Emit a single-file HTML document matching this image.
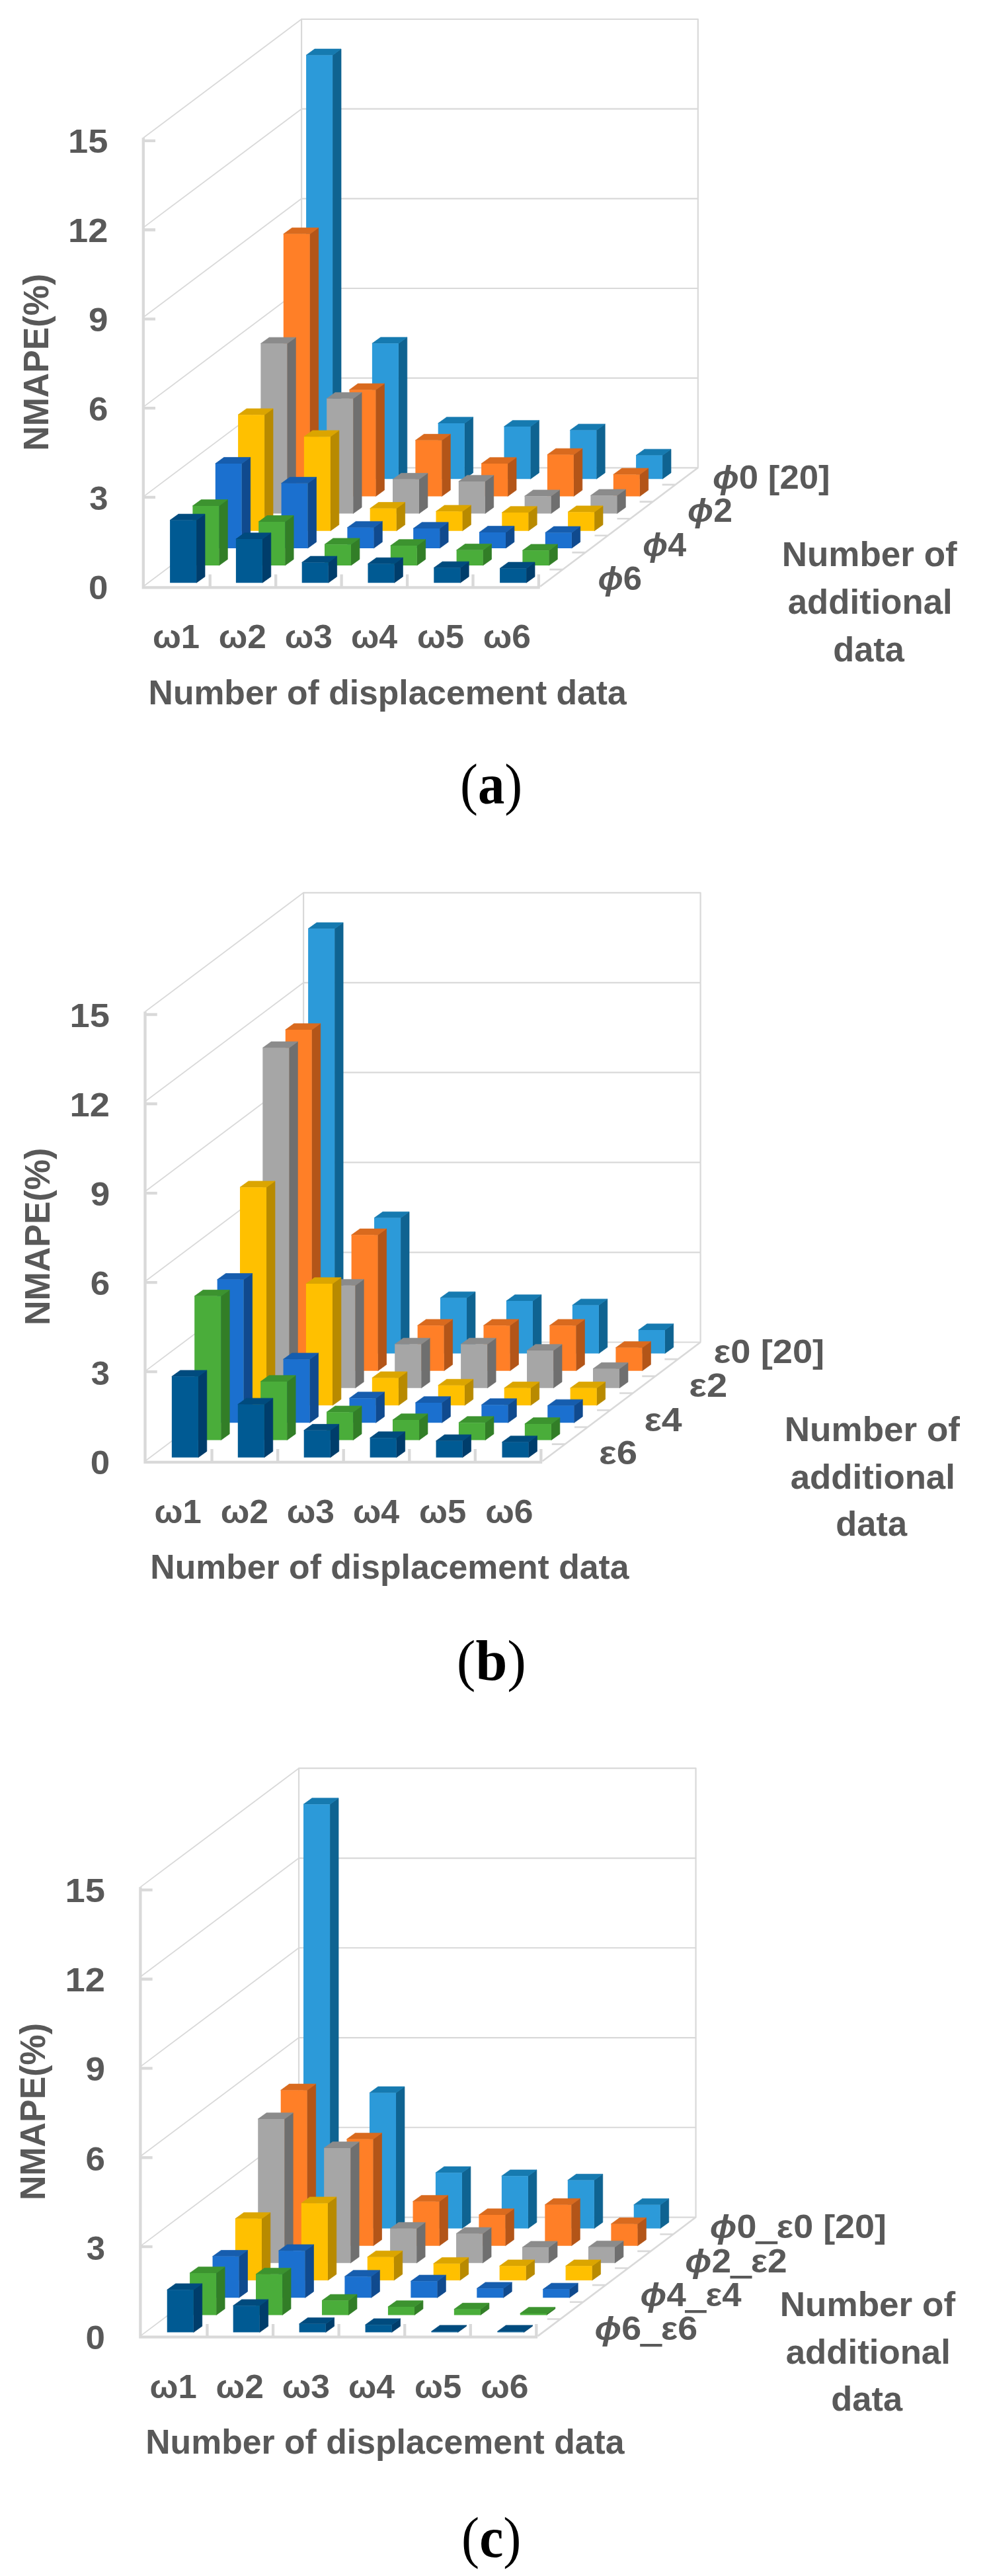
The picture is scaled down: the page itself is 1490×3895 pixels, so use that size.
<!DOCTYPE html>
<html><head><meta charset="utf-8"><title>NMAPE charts</title>
<style>
html,body{margin:0;padding:0;background:#fff}
svg{display:block}
text{font-family:"Liberation Sans",sans-serif;font-weight:bold;fill:#595959}
.cap{font-family:"Liberation Serif",serif;font-weight:normal;fill:#000}
.cap tspan{font-weight:bold}
.i{font-style:italic}
.u{stroke:#595959;stroke-width:2.4}
</style></head><body>
<svg width="1490" height="3895" viewBox="0 0 1490 3895">
<rect width="1490" height="3895" fill="#fff"/>
<g stroke-width="0.7" stroke-linejoin="round" transform="translate(0 0)"><g fill="none" stroke="#d9d9d9" stroke-width="2.2">
<path d="M456.1 29H1055.8V707.3H456.1Z"/>
<path d="M456.1 571.6H1055.8M456.1 436H1055.8M456.1 300.3H1055.8M456.1 164.7H1055.8"/>
<path stroke-width="1.8" d="M216.8 886.7L456.1 707.3M216.8 751.1L456.1 571.6M216.8 615.4L456.1 436M216.8 479.8L456.1 300.3M216.8 344.1L456.1 164.7M216.8 208.5L456.1 29"/>
</g>
<path d="M817.2 886.7L1055.8 707.3M851.3 861.1h-20M885.4 835.4h-20M919.5 809.8h-20M953.5 784.2h-20M987.6 758.6h-20M1021.7 732.9h-20" fill="none" stroke="#d9d9d9" stroke-width="2.6"/>
<path d="M216.8 208.3V888.3H816.7M216.8 751.8h18.2M216.8 617.1h18.2M216.8 482.3h18.2M216.8 347.5h18.2M216.8 212.8h18.2M317.7 888.3v-19.8M417.2 888.3v-19.8M516.6 888.3v-19.8M616.1 888.3v-19.8M715.5 888.3v-19.8M814.9 888.3v-19.8" fill="none" stroke="#d9d9d9" stroke-width="4.3" stroke-linejoin="miter"/>
<path fill="#0f6391" stroke="#0f6391" d="M503.1 724.2l12.9 -9.3V74.1L503.1 83.4ZM602.9 724.2l12.9 -9.3V510L602.9 519.3ZM702.7 724.2l12.9 -9.3V630.8L702.7 640.1ZM802.5 724.2l12.9 -9.3V635.7L802.5 645ZM902.3 724.2l12.9 -9.3V641.2L902.3 650.5ZM1002.1 724.2l12.9 -9.3V679.2L1002.1 688.5Z"/><path fill="#167ab0" stroke="#167ab0" d="M463.1 83.4l12.9 -9.3h40L503.1 83.4ZM562.9 519.3l12.9 -9.3h40L602.9 519.3ZM662.7 640.1l12.9 -9.3h40L702.7 640.1ZM762.5 645l12.9 -9.3h40L802.5 645ZM862.3 650.5l12.9 -9.3h40L902.3 650.5ZM962.1 688.5l12.9 -9.3h40L1002.1 688.5Z"/><path fill="#2c9ad9" d="M463.1 83.4h40V724.2h-40ZM562.9 519.3h40V724.2h-40ZM662.7 640.1h40V724.2h-40ZM762.5 645h40V724.2h-40ZM862.3 650.5h40V724.2h-40ZM962.1 688.5h40V724.2h-40Z"/>
<path fill="#b35518" stroke="#b35518" d="M468.8 750.4l12.9 -9.3V344.5L468.8 353.8ZM568.5 750.4l12.9 -9.3V580.1L568.5 589.4ZM668.4 750.4l12.9 -9.3V656.5L668.4 665.8ZM768.1 750.4l12.9 -9.3V691.8L768.1 701.1ZM867.9 750.4l12.9 -9.3V678.2L867.9 687.5ZM967.8 750.4l12.9 -9.3V708.1L967.8 717.4Z"/><path fill="#d96a1e" stroke="#d96a1e" d="M428.8 353.8l12.9 -9.3h40L468.8 353.8ZM528.5 589.4l12.9 -9.3h40L568.5 589.4ZM628.4 665.8l12.9 -9.3h40L668.4 665.8ZM728.1 701.1l12.9 -9.3h40L768.1 701.1ZM827.9 687.5l12.9 -9.3h40L867.9 687.5ZM927.8 717.4l12.9 -9.3h40L967.8 717.4Z"/><path fill="#ff7f27" d="M428.8 353.8h40V750.4h-40ZM528.5 589.4h40V750.4h-40ZM628.4 665.8h40V750.4h-40ZM728.1 701.1h40V750.4h-40ZM827.9 687.5h40V750.4h-40ZM927.8 717.4h40V750.4h-40Z"/>
<path fill="#6f6f6f" stroke="#6f6f6f" d="M434.4 776.5l12.9 -9.3V510.2L434.4 519.5ZM534.2 776.5l12.9 -9.3V593.4L534.2 602.7ZM634 776.5l12.9 -9.3V715.5L634 724.8ZM733.8 776.5l12.9 -9.3V718.7L733.8 728ZM833.6 776.5l12.9 -9.3V740.9L833.6 750.2ZM933.4 776.5l12.9 -9.3V740L933.4 749.3Z"/><path fill="#8b8b8b" stroke="#8b8b8b" d="M394.4 519.5l12.9 -9.3h40L434.4 519.5ZM494.2 602.7l12.9 -9.3h40L534.2 602.7ZM594 724.8l12.9 -9.3h40L634 724.8ZM693.8 728l12.9 -9.3h40L733.8 728ZM793.6 750.2l12.9 -9.3h40L833.6 750.2ZM893.4 749.3l12.9 -9.3h40L933.4 749.3Z"/><path fill="#a6a6a6" d="M394.4 519.5h40V776.5h-40ZM494.2 602.7h40V776.5h-40ZM594 724.8h40V776.5h-40ZM693.8 728h40V776.5h-40ZM793.6 750.2h40V776.5h-40ZM893.4 749.3h40V776.5h-40Z"/>
<path fill="#b88a00" stroke="#b88a00" d="M400.1 802.7l12.9 -9.3V617.9L400.1 627.2ZM499.9 802.7l12.9 -9.3V650.9L499.9 660.2ZM599.7 802.7l12.9 -9.3V759.5L599.7 768.8ZM699.5 802.7l12.9 -9.3V764L699.5 773.3ZM799.3 802.7l12.9 -9.3V765.8L799.3 775.1ZM899.1 802.7l12.9 -9.3V764.9L899.1 774.2Z"/><path fill="#dba500" stroke="#dba500" d="M360.1 627.2l12.9 -9.3h40L400.1 627.2ZM459.9 660.2l12.9 -9.3h40L499.9 660.2ZM559.7 768.8l12.9 -9.3h40L599.7 768.8ZM659.5 773.3l12.9 -9.3h40L699.5 773.3ZM759.3 775.1l12.9 -9.3h40L799.3 775.1ZM859.1 774.2l12.9 -9.3h40L899.1 774.2Z"/><path fill="#ffc000" d="M360.1 627.2h40V802.7h-40ZM459.9 660.2h40V802.7h-40ZM559.7 768.8h40V802.7h-40ZM659.5 773.3h40V802.7h-40ZM759.3 775.1h40V802.7h-40ZM859.1 774.2h40V802.7h-40Z"/>
<path fill="#104a8e" stroke="#104a8e" d="M365.8 828.9l12.9 -9.3V691.6L365.8 700.9ZM465.6 828.9l12.9 -9.3V721.5L465.6 730.8ZM565.4 828.9l12.9 -9.3V788.4L565.4 797.7ZM665.2 828.9l12.9 -9.3V789.8L665.2 799.1ZM765 828.9l12.9 -9.3V795.6L765 804.9ZM864.8 828.9l12.9 -9.3V796.1L864.8 805.4Z"/><path fill="#165dae" stroke="#165dae" d="M325.8 700.9l12.9 -9.3h40L365.8 700.9ZM425.6 730.8l12.9 -9.3h40L465.6 730.8ZM525.4 797.7l12.9 -9.3h40L565.4 797.7ZM625.2 799.1l12.9 -9.3h40L665.2 799.1ZM725 804.9l12.9 -9.3h40L765 804.9ZM824.8 805.4l12.9 -9.3h40L864.8 805.4Z"/><path fill="#1b70cf" d="M325.8 700.9h40V828.9h-40ZM425.6 730.8h40V828.9h-40ZM525.4 797.7h40V828.9h-40ZM625.2 799.1h40V828.9h-40ZM725 804.9h40V828.9h-40ZM824.8 805.4h40V828.9h-40Z"/>
<path fill="#327e27" stroke="#327e27" d="M331.4 855l12.9 -9.3V755.6L331.4 764.9ZM431.2 855l12.9 -9.3V779.6L431.2 788.9ZM531 855l12.9 -9.3V813.9L531 823.2ZM630.8 855l12.9 -9.3V815.7L630.8 825ZM730.6 855l12.9 -9.3V822.5L730.6 831.8ZM830.4 855l12.9 -9.3V823L830.4 832.3Z"/><path fill="#3c932f" stroke="#3c932f" d="M291.4 764.9l12.9 -9.3h40L331.4 764.9ZM391.2 788.9l12.9 -9.3h40L431.2 788.9ZM491 823.2l12.9 -9.3h40L531 823.2ZM590.8 825l12.9 -9.3h40L630.8 825ZM690.6 831.8l12.9 -9.3h40L730.6 831.8ZM790.4 832.3l12.9 -9.3h40L830.4 832.3Z"/><path fill="#4aad3a" d="M291.4 764.9h40V855h-40ZM391.2 788.9h40V855h-40ZM491 823.2h40V855h-40ZM590.8 825h40V855h-40ZM690.6 831.8h40V855h-40ZM790.4 832.3h40V855h-40Z"/>
<path fill="#003d6b" stroke="#003d6b" d="M297.1 881.2l12.9 -9.3V777.3L297.1 786.6ZM396.9 881.2l12.9 -9.3V805.8L396.9 815.1ZM496.7 881.2l12.9 -9.3V841.1L496.7 850.4ZM596.5 881.2l12.9 -9.3V843.3L596.5 852.6ZM696.3 881.2l12.9 -9.3V849.2L696.3 858.5ZM796.1 881.2l12.9 -9.3V850.1L796.1 859.4Z"/><path fill="#004b7e" stroke="#004b7e" d="M257.1 786.6l12.9 -9.3h40L297.1 786.6ZM356.9 815.1l12.9 -9.3h40L396.9 815.1ZM456.7 850.4l12.9 -9.3h40L496.7 850.4ZM556.5 852.6l12.9 -9.3h40L596.5 852.6ZM656.3 858.5l12.9 -9.3h40L696.3 858.5ZM756.1 859.4l12.9 -9.3h40L796.1 859.4Z"/><path fill="#005a93" d="M257.1 786.6h40V881.2h-40ZM356.9 815.1h40V881.2h-40ZM456.7 850.4h40V881.2h-40ZM556.5 852.6h40V881.2h-40ZM656.3 858.5h40V881.2h-40ZM756.1 859.4h40V881.2h-40Z"/></g>
<g stroke-width="0.7" stroke-linejoin="round" transform="translate(2.42 1320.78) scale(1.0013 1.002)"><g fill="none" stroke="#d9d9d9" stroke-width="2.2">
<path d="M456.1 29H1055.8V707.3H456.1Z"/>
<path d="M456.1 571.6H1055.8M456.1 436H1055.8M456.1 300.3H1055.8M456.1 164.7H1055.8"/>
<path stroke-width="1.8" d="M216.8 886.7L456.1 707.3M216.8 751.1L456.1 571.6M216.8 615.4L456.1 436M216.8 479.8L456.1 300.3M216.8 344.1L456.1 164.7M216.8 208.5L456.1 29"/>
</g>
<path d="M817.2 886.7L1055.8 707.3M851.3 861.1h-20M885.4 835.4h-20M919.5 809.8h-20M953.5 784.2h-20M987.6 758.6h-20M1021.7 732.9h-20" fill="none" stroke="#d9d9d9" stroke-width="2.6"/>
<path d="M216.8 208.3V888.3H816.7M216.8 751.8h18.2M216.8 617.1h18.2M216.8 482.3h18.2M216.8 347.5h18.2M216.8 212.8h18.2M317.7 888.3v-19.8M417.2 888.3v-19.8M516.6 888.3v-19.8M616.1 888.3v-19.8M715.5 888.3v-19.8M814.9 888.3v-19.8" fill="none" stroke="#d9d9d9" stroke-width="4.3" stroke-linejoin="miter"/>
<path fill="#0f6391" stroke="#0f6391" d="M503.1 724.2l12.9 -9.3V74.1L503.1 83.4ZM602.9 724.2l12.9 -9.3V510.5L602.9 519.8ZM702.7 724.2l12.9 -9.3V631.2L702.7 640.5ZM802.5 724.2l12.9 -9.3V635.7L802.5 645ZM902.3 724.2l12.9 -9.3V642.1L902.3 651.4ZM1002.1 724.2l12.9 -9.3V679.6L1002.1 688.9Z"/><path fill="#167ab0" stroke="#167ab0" d="M463.1 83.4l12.9 -9.3h40L503.1 83.4ZM562.9 519.8l12.9 -9.3h40L602.9 519.8ZM662.7 640.5l12.9 -9.3h40L702.7 640.5ZM762.5 645l12.9 -9.3h40L802.5 645ZM862.3 651.4l12.9 -9.3h40L902.3 651.4ZM962.1 688.9l12.9 -9.3h40L1002.1 688.9Z"/><path fill="#2c9ad9" d="M463.1 83.4h40V724.2h-40ZM562.9 519.8h40V724.2h-40ZM662.7 640.5h40V724.2h-40ZM762.5 645h40V724.2h-40ZM862.3 651.4h40V724.2h-40ZM962.1 688.9h40V724.2h-40Z"/>
<path fill="#b35518" stroke="#b35518" d="M468.8 750.4l12.9 -9.3V226.5L468.8 235.8ZM568.5 750.4l12.9 -9.3V536.2L568.5 545.5ZM668.4 750.4l12.9 -9.3V672.8L668.4 682.1ZM768.1 750.4l12.9 -9.3V672.8L768.1 682.1ZM867.9 750.4l12.9 -9.3V672.8L867.9 682.1ZM967.8 750.4l12.9 -9.3V706.3L967.8 715.6Z"/><path fill="#d96a1e" stroke="#d96a1e" d="M428.8 235.8l12.9 -9.3h40L468.8 235.8ZM528.5 545.5l12.9 -9.3h40L568.5 545.5ZM628.4 682.1l12.9 -9.3h40L668.4 682.1ZM728.1 682.1l12.9 -9.3h40L768.1 682.1ZM827.9 682.1l12.9 -9.3h40L867.9 682.1ZM927.8 715.6l12.9 -9.3h40L967.8 715.6Z"/><path fill="#ff7f27" d="M428.8 235.8h40V750.4h-40ZM528.5 545.5h40V750.4h-40ZM628.4 682.1h40V750.4h-40ZM728.1 682.1h40V750.4h-40ZM827.9 682.1h40V750.4h-40ZM927.8 715.6h40V750.4h-40Z"/>
<path fill="#6f6f6f" stroke="#6f6f6f" d="M434.4 776.5l12.9 -9.3V253.8L434.4 263.1ZM534.2 776.5l12.9 -9.3V612.4L534.2 621.7ZM634 776.5l12.9 -9.3V701.1L634 710.4ZM733.8 776.5l12.9 -9.3V701.1L733.8 710.4ZM833.6 776.5l12.9 -9.3V710.6L833.6 719.9ZM933.4 776.5l12.9 -9.3V738.1L933.4 747.4Z"/><path fill="#8b8b8b" stroke="#8b8b8b" d="M394.4 263.1l12.9 -9.3h40L434.4 263.1ZM494.2 621.7l12.9 -9.3h40L534.2 621.7ZM594 710.4l12.9 -9.3h40L634 710.4ZM693.8 710.4l12.9 -9.3h40L733.8 710.4ZM793.6 719.9l12.9 -9.3h40L833.6 719.9ZM893.4 747.4l12.9 -9.3h40L933.4 747.4Z"/><path fill="#a6a6a6" d="M394.4 263.1h40V776.5h-40ZM494.2 621.7h40V776.5h-40ZM594 710.4h40V776.5h-40ZM693.8 710.4h40V776.5h-40ZM793.6 719.9h40V776.5h-40ZM893.4 747.4h40V776.5h-40Z"/>
<path fill="#b88a00" stroke="#b88a00" d="M400.1 802.7l12.9 -9.3V464.2L400.1 473.5ZM499.9 802.7l12.9 -9.3V609.8L499.9 619.1ZM599.7 802.7l12.9 -9.3V751.8L599.7 761.1ZM699.5 802.7l12.9 -9.3V763.1L699.5 772.4ZM799.3 802.7l12.9 -9.3V767.2L799.3 776.5ZM899.1 802.7l12.9 -9.3V767.2L899.1 776.5Z"/><path fill="#dba500" stroke="#dba500" d="M360.1 473.5l12.9 -9.3h40L400.1 473.5ZM459.9 619.1l12.9 -9.3h40L499.9 619.1ZM559.7 761.1l12.9 -9.3h40L599.7 761.1ZM659.5 772.4l12.9 -9.3h40L699.5 772.4ZM759.3 776.5l12.9 -9.3h40L799.3 776.5ZM859.1 776.5l12.9 -9.3h40L899.1 776.5Z"/><path fill="#ffc000" d="M360.1 473.5h40V802.7h-40ZM459.9 619.1h40V802.7h-40ZM559.7 761.1h40V802.7h-40ZM659.5 772.4h40V802.7h-40ZM759.3 776.5h40V802.7h-40ZM859.1 776.5h40V802.7h-40Z"/>
<path fill="#104a8e" stroke="#104a8e" d="M365.8 828.9l12.9 -9.3V603.5L365.8 612.8ZM465.6 828.9l12.9 -9.3V723.7L465.6 733ZM565.4 828.9l12.9 -9.3V782.5L565.4 791.8ZM665.2 828.9l12.9 -9.3V789.3L665.2 798.6ZM765 828.9l12.9 -9.3V792.5L765 801.8ZM864.8 828.9l12.9 -9.3V793.8L864.8 803.1Z"/><path fill="#165dae" stroke="#165dae" d="M325.8 612.8l12.9 -9.3h40L365.8 612.8ZM425.6 733l12.9 -9.3h40L465.6 733ZM525.4 791.8l12.9 -9.3h40L565.4 791.8ZM625.2 798.6l12.9 -9.3h40L665.2 798.6ZM725 801.8l12.9 -9.3h40L765 801.8ZM824.8 803.1l12.9 -9.3h40L864.8 803.1Z"/><path fill="#1b70cf" d="M325.8 612.8h40V828.9h-40ZM425.6 733h40V828.9h-40ZM525.4 791.8h40V828.9h-40ZM625.2 798.6h40V828.9h-40ZM725 801.8h40V828.9h-40ZM824.8 803.1h40V828.9h-40Z"/>
<path fill="#327e27" stroke="#327e27" d="M331.4 855l12.9 -9.3V628.5L331.4 637.8ZM431.2 855l12.9 -9.3V757.4L431.2 766.7ZM531 855l12.9 -9.3V803.5L531 812.8ZM630.8 855l12.9 -9.3V815.3L630.8 824.6ZM730.6 855l12.9 -9.3V819.4L730.6 828.7ZM830.4 855l12.9 -9.3V821.2L830.4 830.5Z"/><path fill="#3c932f" stroke="#3c932f" d="M291.4 637.8l12.9 -9.3h40L331.4 637.8ZM391.2 766.7l12.9 -9.3h40L431.2 766.7ZM491 812.8l12.9 -9.3h40L531 812.8ZM590.8 824.6l12.9 -9.3h40L630.8 824.6ZM690.6 828.7l12.9 -9.3h40L730.6 828.7ZM790.4 830.5l12.9 -9.3h40L830.4 830.5Z"/><path fill="#4aad3a" d="M291.4 637.8h40V855h-40ZM391.2 766.7h40V855h-40ZM491 812.8h40V855h-40ZM590.8 824.6h40V855h-40ZM690.6 828.7h40V855h-40ZM790.4 830.5h40V855h-40Z"/>
<path fill="#003d6b" stroke="#003d6b" d="M297.1 881.2l12.9 -9.3V749.7L297.1 759ZM396.9 881.2l12.9 -9.3V791.8L396.9 801.1ZM496.7 881.2l12.9 -9.3V831.1L496.7 840.4ZM596.5 881.2l12.9 -9.3V842.4L596.5 851.7ZM696.3 881.2l12.9 -9.3V846.9L696.3 856.2ZM796.1 881.2l12.9 -9.3V848.7L796.1 858Z"/><path fill="#004b7e" stroke="#004b7e" d="M257.1 759l12.9 -9.3h40L297.1 759ZM356.9 801.1l12.9 -9.3h40L396.9 801.1ZM456.7 840.4l12.9 -9.3h40L496.7 840.4ZM556.5 851.7l12.9 -9.3h40L596.5 851.7ZM656.3 856.2l12.9 -9.3h40L696.3 856.2ZM756.1 858l12.9 -9.3h40L796.1 858Z"/><path fill="#005a93" d="M257.1 759h40V881.2h-40ZM356.9 801.1h40V881.2h-40ZM456.7 840.4h40V881.2h-40ZM556.5 851.7h40V881.2h-40ZM656.3 856.2h40V881.2h-40ZM756.1 858h40V881.2h-40Z"/></g>
<g stroke-width="0.7" stroke-linejoin="round" transform="translate(-4.71 2644.7) scale(1.0014 1.0008)"><g fill="none" stroke="#d9d9d9" stroke-width="2.2">
<path d="M456.1 29H1055.8V707.3H456.1Z"/>
<path d="M456.1 571.6H1055.8M456.1 436H1055.8M456.1 300.3H1055.8M456.1 164.7H1055.8"/>
<path stroke-width="1.8" d="M216.8 886.7L456.1 707.3M216.8 751.1L456.1 571.6M216.8 615.4L456.1 436M216.8 479.8L456.1 300.3M216.8 344.1L456.1 164.7M216.8 208.5L456.1 29"/>
</g>
<path d="M817.2 886.7L1055.8 707.3M851.3 861.1h-20M885.4 835.4h-20M919.5 809.8h-20M953.5 784.2h-20M987.6 758.6h-20M1021.7 732.9h-20" fill="none" stroke="#d9d9d9" stroke-width="2.6"/>
<path d="M216.8 208.3V888.3H816.7M216.8 751.8h18.2M216.8 617.1h18.2M216.8 482.3h18.2M216.8 347.5h18.2M216.8 212.8h18.2M317.7 888.3v-19.8M417.2 888.3v-19.8M516.6 888.3v-19.8M616.1 888.3v-19.8M715.5 888.3v-19.8M814.9 888.3v-19.8" fill="none" stroke="#d9d9d9" stroke-width="4.3" stroke-linejoin="miter"/>
<path fill="#0f6391" stroke="#0f6391" d="M503.1 724.2l12.9 -9.3V74.1L503.1 83.4ZM602.9 724.2l12.9 -9.3V510L602.9 519.3ZM702.7 724.2l12.9 -9.3V630.8L702.7 640.1ZM802.5 724.2l12.9 -9.3V635.7L802.5 645ZM902.3 724.2l12.9 -9.3V642.1L902.3 651.4ZM1002.1 724.2l12.9 -9.3V679.2L1002.1 688.5Z"/><path fill="#167ab0" stroke="#167ab0" d="M463.1 83.4l12.9 -9.3h40L503.1 83.4ZM562.9 519.3l12.9 -9.3h40L602.9 519.3ZM662.7 640.1l12.9 -9.3h40L702.7 640.1ZM762.5 645l12.9 -9.3h40L802.5 645ZM862.3 651.4l12.9 -9.3h40L902.3 651.4ZM962.1 688.5l12.9 -9.3h40L1002.1 688.5Z"/><path fill="#2c9ad9" d="M463.1 83.4h40V724.2h-40ZM562.9 519.3h40V724.2h-40ZM662.7 640.1h40V724.2h-40ZM762.5 645h40V724.2h-40ZM862.3 651.4h40V724.2h-40ZM962.1 688.5h40V724.2h-40Z"/>
<path fill="#b35518" stroke="#b35518" d="M468.8 750.4l12.9 -9.3V506L468.8 515.3ZM568.5 750.4l12.9 -9.3V580.1L568.5 589.4ZM668.4 750.4l12.9 -9.3V674.2L668.4 683.5ZM768.1 750.4l12.9 -9.3V694.5L768.1 703.8ZM867.9 750.4l12.9 -9.3V679.1L867.9 688.4ZM967.8 750.4l12.9 -9.3V708.1L967.8 717.4Z"/><path fill="#d96a1e" stroke="#d96a1e" d="M428.8 515.3l12.9 -9.3h40L468.8 515.3ZM528.5 589.4l12.9 -9.3h40L568.5 589.4ZM628.4 683.5l12.9 -9.3h40L668.4 683.5ZM728.1 703.8l12.9 -9.3h40L768.1 703.8ZM827.9 688.4l12.9 -9.3h40L867.9 688.4ZM927.8 717.4l12.9 -9.3h40L967.8 717.4Z"/><path fill="#ff7f27" d="M428.8 515.3h40V750.4h-40ZM528.5 589.4h40V750.4h-40ZM628.4 683.5h40V750.4h-40ZM728.1 703.8h40V750.4h-40ZM827.9 688.4h40V750.4h-40ZM927.8 717.4h40V750.4h-40Z"/>
<path fill="#6f6f6f" stroke="#6f6f6f" d="M434.4 776.5l12.9 -9.3V549.6L434.4 558.9ZM534.2 776.5l12.9 -9.3V593.4L534.2 602.7ZM634 776.5l12.9 -9.3V715.1L634 724.4ZM733.8 776.5l12.9 -9.3V722.8L733.8 732.1ZM833.6 776.5l12.9 -9.3V743.6L833.6 752.9ZM933.4 776.5l12.9 -9.3V743.1L933.4 752.4Z"/><path fill="#8b8b8b" stroke="#8b8b8b" d="M394.4 558.9l12.9 -9.3h40L434.4 558.9ZM494.2 602.7l12.9 -9.3h40L534.2 602.7ZM594 724.4l12.9 -9.3h40L634 724.4ZM693.8 732.1l12.9 -9.3h40L733.8 732.1ZM793.6 752.9l12.9 -9.3h40L833.6 752.9ZM893.4 752.4l12.9 -9.3h40L933.4 752.4Z"/><path fill="#a6a6a6" d="M394.4 558.9h40V776.5h-40ZM494.2 602.7h40V776.5h-40ZM594 724.4h40V776.5h-40ZM693.8 732.1h40V776.5h-40ZM793.6 752.9h40V776.5h-40ZM893.4 752.4h40V776.5h-40Z"/>
<path fill="#b88a00" stroke="#b88a00" d="M400.1 802.7l12.9 -9.3V700.2L400.1 709.5ZM499.9 802.7l12.9 -9.3V676.7L499.9 686ZM599.7 802.7l12.9 -9.3V758.1L599.7 767.4ZM699.5 802.7l12.9 -9.3V768.1L699.5 777.4ZM799.3 802.7l12.9 -9.3V771.7L799.3 781ZM899.1 802.7l12.9 -9.3V771.7L899.1 781Z"/><path fill="#dba500" stroke="#dba500" d="M360.1 709.5l12.9 -9.3h40L400.1 709.5ZM459.9 686l12.9 -9.3h40L499.9 686ZM559.7 767.4l12.9 -9.3h40L599.7 767.4ZM659.5 777.4l12.9 -9.3h40L699.5 777.4ZM759.3 781l12.9 -9.3h40L799.3 781ZM859.1 781l12.9 -9.3h40L899.1 781Z"/><path fill="#ffc000" d="M360.1 709.5h40V802.7h-40ZM459.9 686h40V802.7h-40ZM559.7 767.4h40V802.7h-40ZM659.5 777.4h40V802.7h-40ZM759.3 781h40V802.7h-40ZM859.1 781h40V802.7h-40Z"/>
<path fill="#104a8e" stroke="#104a8e" d="M365.8 828.9l12.9 -9.3V757.2L365.8 766.5ZM465.6 828.9l12.9 -9.3V748.6L465.6 757.9ZM565.4 828.9l12.9 -9.3V787.5L565.4 796.8ZM665.2 828.9l12.9 -9.3V794.7L665.2 804ZM765 828.9l12.9 -9.3V805.6L765 814.9ZM864.8 828.9l12.9 -9.3V806.9L864.8 816.2Z"/><path fill="#165dae" stroke="#165dae" d="M325.8 766.5l12.9 -9.3h40L365.8 766.5ZM425.6 757.9l12.9 -9.3h40L465.6 757.9ZM525.4 796.8l12.9 -9.3h40L565.4 796.8ZM625.2 804l12.9 -9.3h40L665.2 804ZM725 814.9l12.9 -9.3h40L765 814.9ZM824.8 816.2l12.9 -9.3h40L864.8 816.2Z"/><path fill="#1b70cf" d="M325.8 766.5h40V828.9h-40ZM425.6 757.9h40V828.9h-40ZM525.4 796.8h40V828.9h-40ZM625.2 804h40V828.9h-40ZM725 814.9h40V828.9h-40ZM824.8 816.2h40V828.9h-40Z"/>
<path fill="#327e27" stroke="#327e27" d="M331.4 855l12.9 -9.3V782.3L331.4 791.6ZM431.2 855l12.9 -9.3V784.1L431.2 793.4ZM531 855l12.9 -9.3V823.9L531 833.2ZM630.8 855l12.9 -9.3V833.4L630.8 842.7ZM730.6 855l12.9 -9.3V837L730.6 846.3ZM830.4 855l12.9 -9.3V843.3L830.4 852.6Z"/><path fill="#3c932f" stroke="#3c932f" d="M291.4 791.6l12.9 -9.3h40L331.4 791.6ZM391.2 793.4l12.9 -9.3h40L431.2 793.4ZM491 833.2l12.9 -9.3h40L531 833.2ZM590.8 842.7l12.9 -9.3h40L630.8 842.7ZM690.6 846.3l12.9 -9.3h40L730.6 846.3ZM790.4 852.6l12.9 -9.3h40L830.4 852.6Z"/><path fill="#4aad3a" d="M291.4 791.6h40V855h-40ZM391.2 793.4h40V855h-40ZM491 833.2h40V855h-40ZM590.8 842.7h40V855h-40ZM690.6 846.3h40V855h-40ZM790.4 852.6h40V855h-40Z"/>
<path fill="#003d6b" stroke="#003d6b" d="M297.1 881.2l12.9 -9.3V807.6L297.1 816.9ZM396.9 881.2l12.9 -9.3V831.6L396.9 840.9ZM496.7 881.2l12.9 -9.3V859.1L496.7 868.4ZM596.5 881.2l12.9 -9.3V860.5L596.5 869.8ZM696.3 881.2l12.9 -9.3V870.5L696.3 879.8ZM796.1 881.2l12.9 -9.3V870.5L796.1 879.8Z"/><path fill="#004b7e" stroke="#004b7e" d="M257.1 816.9l12.9 -9.3h40L297.1 816.9ZM356.9 840.9l12.9 -9.3h40L396.9 840.9ZM456.7 868.4l12.9 -9.3h40L496.7 868.4ZM556.5 869.8l12.9 -9.3h40L596.5 869.8ZM656.3 879.8l12.9 -9.3h40L696.3 879.8ZM756.1 879.8l12.9 -9.3h40L796.1 879.8Z"/><path fill="#005a93" d="M257.1 816.9h40V881.2h-40ZM356.9 840.9h40V881.2h-40ZM456.7 868.4h40V881.2h-40ZM556.5 869.8h40V881.2h-40ZM656.3 879.8h40V881.2h-40ZM756.1 879.8h40V881.2h-40Z"/></g>
<g font-size="50">
<text transform="translate(134.1 906.3) scale(1.0583 1)">0</text>
<text transform="translate(135.2 771.3) scale(1.0160 1)">3</text>
<text transform="translate(134.1 636.3) scale(1.0583 1)">6</text>
<text transform="translate(134.1 501.3) scale(1.0583 1)">9</text>
<text transform="translate(103.0 366.3) scale(1.0843 1)">12</text>
<text transform="translate(103.0 231.3) scale(1.0843 1)">15</text>
<text transform="translate(230.9 980.3) scale(1.0149 1)">ω1</text>
<text transform="translate(330.8 980.3) scale(1.0303 1)">ω2</text>
<text transform="translate(430.8 980.3) scale(1.0303 1)">ω3</text>
<text transform="translate(530.9 980.3) scale(1.0000 1)">ω4</text>
<text transform="translate(630.9 980.3) scale(1.0149 1)">ω5</text>
<text transform="translate(730.8 980.3) scale(1.0303 1)">ω6</text>
<text font-size="52" transform="translate(224.6 1064.5) scale(0.9934 1)">Number of displacement data</text>
<text font-size="53" transform="translate(72.8 681.8) rotate(-90) scale(0.9783 1)">NMAPE(%)</text>
<text font-size="52" transform="translate(1182.7 856.4) scale(1.0195 1)">Number of</text>
<text font-size="52" transform="translate(1191.8 928.3) scale(1.0137 1)">additional</text>
<text font-size="52" transform="translate(1260.3 999.5) scale(1.0067 1)">data</text>
<text transform="translate(904.4 892.0) scale(1.0145 1)"><tspan class="i">ϕ</tspan>6</text>
<text transform="translate(972.2 840.5) scale(1.0031 1)"><tspan class="i">ϕ</tspan>4</text>
<text transform="translate(1040.1 789.3) scale(1.0339 1)"><tspan class="i">ϕ</tspan>2</text>
<text transform="translate(1077.9 738.7) scale(1.0549 1)"><tspan class="i">ϕ</tspan>0 [20]</text>
<text transform="translate(136.7 2228.9) scale(1.0597 1)">0</text>
<text transform="translate(137.8 2093.6) scale(1.0173 1)">3</text>
<text transform="translate(136.7 1958.4) scale(1.0597 1)">6</text>
<text transform="translate(136.7 1823.1) scale(1.0597 1)">9</text>
<text transform="translate(105.6 1687.8) scale(1.0857 1)">12</text>
<text transform="translate(105.6 1552.5) scale(1.0857 1)">15</text>
<text transform="translate(233.6 2303.0) scale(1.0162 1)">ω1</text>
<text transform="translate(333.7 2303.0) scale(1.0316 1)">ω2</text>
<text transform="translate(433.8 2303.0) scale(1.0316 1)">ω3</text>
<text transform="translate(534.0 2303.0) scale(1.0013 1)">ω4</text>
<text transform="translate(634.1 2303.0) scale(1.0162 1)">ω5</text>
<text transform="translate(734.2 2303.0) scale(1.0316 1)">ω6</text>
<text font-size="52" transform="translate(227.3 2387.4) scale(0.9947 1)">Number of displacement data</text>
<text font-size="53" transform="translate(75.3 2004.0) rotate(-90) scale(0.9802 1)">NMAPE(%)</text>
<text font-size="52" transform="translate(1186.7 2178.9) scale(1.0208 1)">Number of</text>
<text font-size="52" transform="translate(1195.7 2250.9) scale(1.0151 1)">additional</text>
<text font-size="52" transform="translate(1264.3 2322.3) scale(1.0080 1)">data</text>
<text transform="translate(906.1 2214.4) scale(1.1250 1)">ε6</text>
<text transform="translate(974.4 2163.6) scale(1.1102 1)">ε4</text>
<text transform="translate(1042.2 2112.0) scale(1.1250 1)">ε2</text>
<text transform="translate(1079.6 2060.9) scale(1.0860 1)">ε0 [20]</text>
<text transform="translate(129.6 3551.7) scale(1.0598 1)">0</text>
<text transform="translate(130.7 3416.6) scale(1.0174 1)">3</text>
<text transform="translate(129.6 3281.5) scale(1.0598 1)">6</text>
<text transform="translate(129.6 3146.4) scale(1.0598 1)">9</text>
<text transform="translate(98.5 3011.3) scale(1.0858 1)">12</text>
<text transform="translate(98.5 2876.2) scale(1.0858 1)">15</text>
<text transform="translate(226.5 3625.8) scale(1.0163 1)">ω1</text>
<text transform="translate(326.6 3625.8) scale(1.0317 1)">ω2</text>
<text transform="translate(426.7 3625.8) scale(1.0317 1)">ω3</text>
<text transform="translate(526.9 3625.8) scale(1.0014 1)">ω4</text>
<text transform="translate(627.0 3625.8) scale(1.0163 1)">ω5</text>
<text transform="translate(727.2 3625.8) scale(1.0317 1)">ω6</text>
<text font-size="52" transform="translate(220.2 3710.1) scale(0.9948 1)">Number of displacement data</text>
<text font-size="53" transform="translate(68.2 3327.1) rotate(-90) scale(0.9791 1)">NMAPE(%)</text>
<text font-size="52" transform="translate(1179.7 3501.8) scale(1.0209 1)">Number of</text>
<text font-size="52" transform="translate(1188.7 3573.7) scale(1.0152 1)">additional</text>
<text font-size="52" transform="translate(1257.3 3645.0) scale(1.0081 1)">data</text>
<text transform="translate(899.5 3537.9) scale(1.0738 1)"><tspan class="i">ϕ</tspan>6<tspan class="u" dy="2.6">_</tspan><tspan dy="-2.6">ε6</tspan></text>
<text transform="translate(968.6 3487.0) scale(1.0545 1)"><tspan class="i">ϕ</tspan>4<tspan class="u" dy="2.6">_</tspan><tspan dy="-2.6">ε4</tspan></text>
<text transform="translate(1036.3 3435.8) scale(1.0645 1)"><tspan class="i">ϕ</tspan>2<tspan class="u" dy="2.6">_</tspan><tspan dy="-2.6">ε2</tspan></text>
<text transform="translate(1073.7 3383.5) scale(1.0790 1)"><tspan class="i">ϕ</tspan>0<tspan class="u" dy="2.6">_</tspan><tspan dy="-2.6">ε0 [20]</tspan></text>
<text class="cap" font-size="86" transform="translate(696.1 1215.4) scale(0.9387 1)">(<tspan>a</tspan>)</text>
<text class="cap" font-size="86" transform="translate(690.8 2540.1) scale(1.0010 1)">(<tspan>b</tspan>)</text>
<text class="cap" font-size="86" transform="translate(698.1 3865.5) scale(0.9466 1)">(<tspan>c</tspan>)</text>
</g>
</svg>
</body></html>
